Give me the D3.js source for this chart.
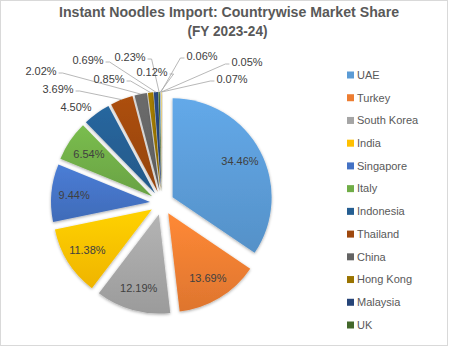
<!DOCTYPE html>
<html>
<head>
<meta charset="utf-8">
<script src="https://cdn.jsdelivr.net/npm/d3@7"></script>
<style>
  body { margin: 0; background: #fff; }
  text { font-family: "Liberation Sans", Arial, sans-serif; }
</style>
</head>
<body>
<script>
// data
var countries = ["UAE", "Turkey", "South Korea", "India", "Singapore", "Italy",
  "Indonesia", "Thailand", "China", "Hong Kong", "Malaysia", "UK",
  "Other 1", "Other 2", "Other 3", "Other 4"];
var shares = [34.46, 13.69, 12.19, 11.38, 9.44, 6.54, 4.50, 3.69, 2.02, 0.85, 0.69, 0.23,
  0.12, 0.06, 0.05, 0.07];
var legendCount = 12; // the legend in the original only shows the first 12

var colors = ["#5B9BD5", "#ED7D31", "#A5A5A5", "#FFC000", "#4472C4", "#70AD47",
  "#255E91", "#9E480E", "#636363", "#997300", "#264478", "#43682B",
  "#7CAFDD", "#F1975A", "#B7B7B7", "#FFCD33"];

// label spots outside the pie (offset from pie centre), Excel placed these
var calloutSpots = {
  6: [-86, -96],
  7: [-104, -114], 8: [-121, -132], 9: [-53, -124], 10: [-74, -143],
  11: [-32, -146], 12: [-10, -131], 13: [40, -147], 14: [85, -141], 15: [70, -124]
};
var noLeader = { 6: true };

var width = 449, height = 347;
var cx = 162, cy = 203, radius = 99, explode = 12;

var svg = d3.select("body").append("svg")
  .attr("width", width)
  .attr("height", height);

svg.append("rect")
  .attr("x", 0.5).attr("y", 0.5)
  .attr("width", 447).attr("height", 345)
  .attr("fill", "#fff")
  .attr("stroke", "#d9d9d9");

var defs = svg.append("defs");
var shadow = defs.append("filter").attr("id", "shadow")
  .attr("x", "-20%").attr("y", "-20%").attr("width", "140%").attr("height", "140%");
shadow.append("feDropShadow")
  .attr("dx", 0).attr("dy", 1)
  .attr("stdDeviation", 1.4)
  .attr("flood-color", "#000")
  .attr("flood-opacity", 0.35);

colors.forEach(function(c, i) {
  var g = defs.append("linearGradient").attr("id", "grad" + i)
    .attr("x1", 0).attr("y1", 0).attr("x2", 0).attr("y2", 1);
  g.append("stop").attr("offset", "0%").attr("stop-color", d3.color(c).brighter(0.25));
  g.append("stop").attr("offset", "100%").attr("stop-color", d3.color(c).darker(0.18));
});

// title
var title = svg.append("g").attr("fill", "#595959")
  .attr("font-weight", "bold").attr("font-size", "14px")
  .attr("text-anchor", "middle");
title.append("text").attr("x", 229).attr("y", 17)
  .attr("textLength", 340).attr("lengthAdjust", "spacingAndGlyphs")
  .text("Instant Noodles Import: Countrywise Market Share");
title.append("text").attr("x", 227.5).attr("y", 36)
  .attr("textLength", 80).attr("lengthAdjust", "spacingAndGlyphs")
  .text("(FY 2023-24)");

var pie = d3.pie().sort(null).value(function(d) { return d; });
var arcs = pie(shares);

var arc = d3.arc().innerRadius(0).outerRadius(radius);

function mid(d) { return (d.startAngle + d.endAngle) / 2; }
function shift(d, r) {
  var a = mid(d);
  return [Math.sin(a) * r, -Math.cos(a) * r];
}

var pieG = svg.append("g").attr("transform", "translate(" + cx + "," + cy + ")");

pieG.selectAll("path.slice")
  .data(arcs)
  .enter().append("path")
  .attr("class", "slice")
  .attr("transform", function(d) {
    var s = shift(d, explode);
    return "translate(" + s[0] + "," + s[1] + ")";
  })
  .attr("d", arc)
  .attr("fill", function(d, i) { return "url(#grad" + i + ")"; })
  .attr("filter", "url(#shadow)");

function fmt(v) { return v.toFixed(2) + "%"; }

// labels
var labG = pieG.append("g").attr("font-size", "11px").attr("fill", "#404040");

arcs.forEach(function(d, i) {
  var v = shares[i];
  var base = shift(d, explode);
  var spot = calloutSpots[i];
  if (!spot) {
    var p = shift(d, radius * 0.77);
    labG.append("text")
      .attr("x", base[0] + p[0]).attr("y", base[1] + p[1])
      .attr("text-anchor", "middle").attr("dy", "0.35em")
      .text(fmt(v));
    return;
  }
  var t = labG.append("text")
    .attr("x", spot[0]).attr("y", spot[1])
    .attr("text-anchor", "middle").attr("dy", "0.35em")
    .text(fmt(v));
  if (noLeader[i]) return;
  var w = t.node().getComputedTextLength();
  var edge = shift(d, radius + explode);
  var leftSide = spot[0] < edge[0];
  var sx = leftSide ? spot[0] + w / 2 + 2 : spot[0] - w / 2 - 2;
  var hx = leftSide ? sx + 4 : sx - 4;
  pieG.insert("path", "g")
    .attr("d", "M" + sx + "," + (spot[1] + 2) + "L" + hx + "," + (spot[1] + 2) +
      "L" + edge[0] + "," + edge[1])
    .attr("fill", "none")
    .attr("stroke", "#a6a6a6")
    .attr("stroke-width", 0.8);
});

// legend
var legend = svg.append("g").attr("transform", "translate(347,75)");
var row = d3.scaleLinear().domain([0, 11]).range([0, 250]);

var item = legend.selectAll("g")
  .data(countries.slice(0, legendCount))
  .enter().append("g")
  .attr("transform", function(d, i) { return "translate(0," + row(i) + ")"; });

item.append("rect")
  .attr("x", 0).attr("y", -3.5)
  .attr("width", 7).attr("height", 7)
  .attr("fill", function(d, i) { return colors[i]; });

item.append("text")
  .attr("x", 10).attr("dy", "0.35em")
  .attr("font-size", "11px")
  .attr("fill", "#595959")
  .text(function(d) { return d; });
</script>
</body>
</html>
